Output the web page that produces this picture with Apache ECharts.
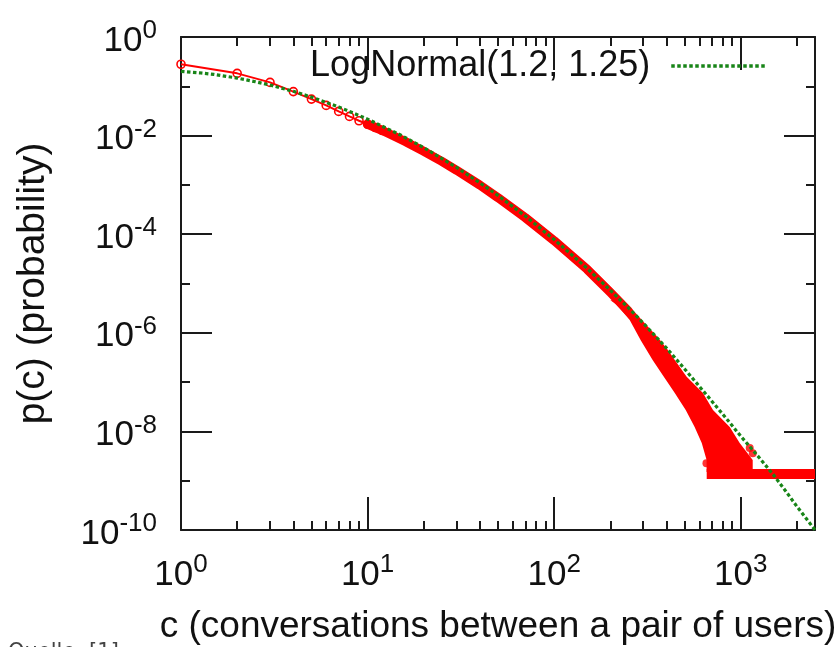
<!DOCTYPE html>
<html><head><meta charset="utf-8">
<script src="https://cdn.jsdelivr.net/npm/echarts@6/dist/echarts.min.js"></script>
<style>html,body{margin:0;padding:0;background:#fff}#c{width:839px;height:647px}</style>
</head><body><div id="c"></div>
<script>
// ---- tick values ----
const xMajorTicks = [1, 10, 100, 1000];
const xMinorTicks = [2,3,4,5,6,7,8,9,20,30,40,50,60,70,80,90,200,300,400,500,600,700,800,900,2000];
const yMajorTicks = [1e-10, 1e-8, 1e-6, 1e-4, 1e-2, 1];
const yMinorTicks = [1e-9, 1e-7, 1e-5, 1e-3, 1e-1];

// ---- fitted curve (green) ----
const fitName = 'LogNormal(1.2, 1.25)';
const fitC = [1, 1.25, 1.5, 2, 2.5, 3, 4, 5, 7, 10, 15, 20, 30, 40, 50, 70, 100, 150, 200, 250, 300, 400, 500, 700, 850, 1000, 1250, 1500, 1750, 2000, 2500];
const fitP = [0.201, 0.188, 0.174, 0.147, 0.124, 0.106, 0.079, 0.0605, 0.0382, 0.0216, 0.0103, 0.0057, 0.00226, 0.0011, 6.1e-4, 2.33e-4, 7.8e-5, 2.04e-5, 7.3e-6, 3.2e-6, 1.58e-6, 4.9e-7, 1.85e-7, 4.1e-8, 1.7e-8, 8.0e-9, 3.0e-9, 1.3e-9, 6.0e-10, 3.0e-10, 1.0e-10];

// ---- empirical data (red) ----
const redLowC = [1, 2, 3, 4, 5, 6, 7, 8, 9, 10, 11, 12];
const redLowP = [0.28, 0.183, 0.12, 0.078, 0.055, 0.041, 0.031, 0.0245, 0.0200, 0.0170, 0.0146, 0.0127];
const bandC = [10, 11, 12, 14, 16, 18, 20, 25, 30, 40, 50, 70, 100, 150, 200, 250];
const bandP = [0.0170, 0.0146, 0.0127, 0.0096, 0.0075, 0.0059, 0.0048, 0.0030, 0.00198, 9.9e-4, 5.5e-4, 2.17e-4, 7.4e-5, 1.95e-5, 6.6e-6, 2.75e-6];
// outline of the dense scatter cloud in the tail (right edge down, then left edge up)
const cloudC = [228, 262, 300, 360, 405, 443, 513, 627, 710, 873, 987, 1159, 1159, 656, 656, 618, 566, 507, 443, 387, 337, 291, 254, 215, 200];
const cloudP = [4.6e-6, 3.0e-6, 1.7e-6, 8.0e-7, 4.6e-7, 2.81e-7, 1.29e-7, 6.0e-8, 2.72e-8, 1.23e-8, 5.8e-9, 2.63e-9, 1.5e-9, 1.5e-9, 2.63e-9, 5.8e-9, 1.23e-8, 2.72e-8, 6.0e-8, 1.29e-7, 2.81e-7, 7.1e-7, 1.82e-6, 3.8e-6, 4.6e-6];
// single-pair floor (1/N)
const floorC = [657, 900, 1200, 1600, 2000, 2500];
const floorP = [1.37e-9, 1.37e-9, 1.37e-9, 1.37e-9, 1.37e-9, 1.37e-9];
const outC = [1117, 1160, 655];
const outP = [4.6e-9, 3.6e-9, 2.25e-9];

// ---- styling ----
const AX = '#1a1a1a';
const TXT = '#111';
const FONT = '"Liberation Sans", Arial, sans-serif';
const RED = '#ff0000';
const GREEN = '#188518';
const GREEN_DASH = [3.5, 2.5];
const zip = (a, b) => a.map((v, i) => [v, b[i]]);

function fmtPow(v) {
  const e = Math.round(Math.log10(v));
  if (Math.abs(v - Math.pow(10, e)) > Math.abs(v) * 1e-6) return '';
  return '{b|10}{s|' + e + '}';
}
const rich = {
  b: { fontSize: 35, lineHeight: 46, color: TXT, fontFamily: FONT },
  s: { fontSize: 26, lineHeight: 18, verticalAlign: 'top', color: TXT, fontFamily: FONT }
};

function xAx(pos, ticks, len, withLine, withLabel) {
  const a = {
    type: 'log', logBase: 10, min: 1, max: 2500, position: pos, gridIndex: 0,
    splitLine: { show: false }, minorTick: { show: false },
    axisLine: { show: withLine, onZero: false, lineStyle: { color: AX, width: 2 } },
    axisTick: { show: true, inside: true, length: len, customValues: ticks, lineStyle: { color: AX, width: 2 } },
    axisLabel: { show: false }
  };
  if (withLabel) {
    a.axisLabel = { show: true, customValues: ticks, formatter: fmtPow, rich: rich, margin: 14, padding: [8, 0, 0, 0], hideOverlap: false };
    a.name = 'c (conversations between a pair of users)';
    a.nameLocation = 'middle';
    a.nameGap = 78;
    a.nameTextStyle = { fontSize: 37, color: TXT, fontFamily: FONT };
  }
  return a;
}
function yAx(pos, ticks, len, withLine, withLabel) {
  const a = {
    type: 'log', logBase: 10, min: 1e-10, max: 1, position: pos, gridIndex: 0,
    splitLine: { show: false }, minorTick: { show: false },
    axisLine: { show: withLine, onZero: false, lineStyle: { color: AX, width: 2 } },
    axisTick: { show: true, inside: true, length: len, customValues: ticks, lineStyle: { color: AX, width: 2 } },
    axisLabel: { show: false }
  };
  if (withLabel) {
    a.axisLabel = { show: true, customValues: ticks, formatter: fmtPow, rich: rich, margin: 24, padding: [8, 0, 0, 0], hideOverlap: false };
    a.name = 'p(c) (probability)';
    a.nameLocation = 'middle';
    a.nameGap = 128;
    a.nameTextStyle = { fontSize: 39, color: TXT, fontFamily: FONT };
  }
  return a;
}

const chart = echarts.init(document.getElementById('c'), null, { renderer: 'canvas' });
chart.setOption({
  animation: false,
  backgroundColor: '#fff',
  grid: { left: 181, top: 37, width: 634, height: 493, containLabel: false, outerBoundsMode: 'none' },
  legend: {
    data: [fitName], right: 71, top: 46, padding: 0, align: 'right',
    itemWidth: 95, itemHeight: 14,
    itemStyle: { opacity: 0 },
    lineStyle: { color: GREEN, width: 3.5, type: GREEN_DASH },
    textStyle: { fontSize: 36, color: TXT, fontFamily: FONT, lineHeight: 40, padding: [0, 16, 0, 0] }
  },
  xAxis: [
    xAx('bottom', xMajorTicks, 33, true, true),
    xAx('bottom', xMinorTicks, 9, false, false),
    xAx('top', xMajorTicks, 33, true, false),
    xAx('top', xMinorTicks, 9, false, false)
  ],
  yAxis: [
    yAx('left', yMajorTicks, 31, true, true),
    yAx('left', yMinorTicks, 9, false, false),
    yAx('right', yMajorTicks, 31, true, false),
    yAx('right', yMinorTicks, 9, false, false)
  ],
  graphic: [{
    type: 'text', left: 8, top: 642,
    style: { text: 'Quelle: [1]', fontSize: 21, fill: '#444', fontFamily: '"DejaVu Sans", sans-serif' }
  }],
  series: [
    {
      type: 'custom', name: 'cloud', data: zip(cloudC, cloudP), clip: false, silent: true, z: 2,
      renderItem: function (params, api) {
        if (params.dataIndex !== 0) return null;
        const pts = cloudC.map((c, i) => api.coord([c, cloudP[i]]));
        return { type: 'polygon', shape: { points: pts }, style: { fill: RED } };
      }
    },
    {
      type: 'line', name: 'band', data: zip(bandC, bandP), showSymbol: false, symbol: 'none',
      lineStyle: { color: RED, width: 9, cap: 'round', join: 'round' }, z: 2, silent: true
    },
    {
      type: 'line', name: 'floor', data: zip(floorC, floorP), showSymbol: false, symbol: 'none',
      lineStyle: { color: RED, width: 10, cap: 'butt' }, z: 2, silent: true, clip: false
    },
    {
      type: 'scatter', name: 'outliers', data: zip(outC, outP), symbol: 'circle', symbolSize: 8,
      itemStyle: { color: RED }, z: 2, silent: true, clip: false
    },
    {
      type: 'line', name: 'data', data: zip(redLowC, redLowP), symbol: 'circle', symbolSize: 8, showSymbol: true,
      itemStyle: { color: 'rgba(0,0,0,0)', borderColor: RED, borderWidth: 1.6 },
      lineStyle: { color: RED, width: 2 }, z: 3, silent: true, clip: false
    },
    {
      type: 'line', name: fitName, data: zip(fitC, fitP), symbol: 'none', showSymbol: false,
      itemStyle: { color: GREEN },
      lineStyle: { color: GREEN, width: 3.2, type: GREEN_DASH }, z: 5, silent: true
    }
  ]
});
</script>
</body></html>
